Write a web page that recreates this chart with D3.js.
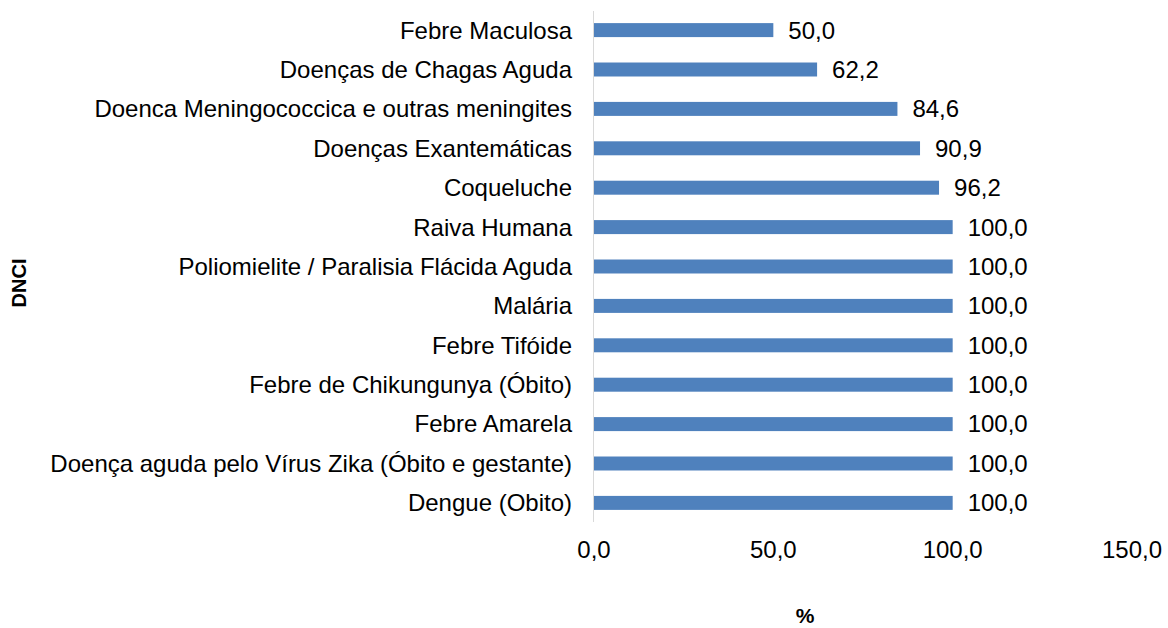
<!DOCTYPE html>
<html>
<head>
<meta charset="utf-8">
<script src="https://cdn.jsdelivr.net/npm/d3@7"></script>
<style>
  body { margin: 0; background: #fff; }
  text { font-family: "Liberation Sans", Arial, sans-serif; }
</style>
</head>
<body>
<div id="chart"></div>
<script>
// categories, top to bottom
var categories = [
  "Febre Maculosa",
  "Doenças de Chagas Aguda",
  "Doenca Meningococcica e outras meningites",
  "Doenças Exantemáticas",
  "Coqueluche",
  "Raiva Humana",
  "Poliomielite / Paralisia Flácida Aguda",
  "Malária",
  "Febre Tifóide",
  "Febre de Chikungunya (Óbito)",
  "Febre Amarela",
  "Doença aguda pelo Vírus Zika (Óbito e gestante)",
  "Dengue (Obito)"
];
var values = [50.0, 62.2, 84.6, 90.9, 96.2, 100, 100, 100, 100, 100, 100, 100, 100];
var xTicks = [0, 50, 100, 150];

var W = 1168, H = 628;
var FS = 24;
var fmt = function(v){ return d3.format(".1f")(v).replace(".", ","); };

var svg = d3.select("#chart").append("svg")
  .attr("width", W).attr("height", H);

var x = d3.scaleLinear().domain([0, 150]).range([594, 1132]);
var y = d3.scaleBand().domain(categories).range([10.5, 522.5])
  .paddingInner(0.645).paddingOuter(0.32);

// bars
svg.selectAll("rect.bar").data(values).enter().append("rect")
  .attr("class", "bar")
  .attr("x", x(0))
  .attr("y", function(d, i){ return y(categories[i]); })
  .attr("width", function(d){ return x(d) - x(0); })
  .attr("height", y.bandwidth())
  .attr("fill", "#4f81bd");

// vertical axis line
svg.append("line")
  .attr("x1", x(0) - 0.5).attr("x2", x(0) - 0.5)
  .attr("y1", 11).attr("y2", 522)
  .attr("stroke", "#d9d9d9").attr("stroke-width", 1);

// category labels
svg.selectAll("text.cat").data(categories).enter().append("text")
  .attr("class", "cat")
  .attr("x", 572)
  .attr("y", function(d){ return y(d) + y.bandwidth() / 2; })
  .attr("dy", "0.35em")
  .attr("text-anchor", "end")
  .attr("font-size", FS)
  .attr("fill", "#000")
  .text(function(d){ return d; });

// value labels
svg.selectAll("text.val").data(values).enter().append("text")
  .attr("class", "val")
  .attr("x", function(d){ return x(d) + 15; })
  .attr("y", function(d, i){ return y(categories[i]) + y.bandwidth() / 2; })
  .attr("dy", "0.35em")
  .attr("font-size", FS)
  .attr("fill", "#000")
  .text(fmt);

// x tick labels
svg.selectAll("text.tick").data(xTicks).enter().append("text")
  .attr("class", "tick")
  .attr("x", function(d){ return x(d); })
  .attr("y", 550)
  .attr("dy", "0.35em")
  .attr("text-anchor", "middle")
  .attr("font-size", FS)
  .text(fmt);

// axis titles
svg.append("text")
  .attr("x", 805).attr("y", 616)
  .attr("dy", "0.35em")
  .attr("text-anchor", "middle")
  .attr("font-size", 21).attr("font-weight", "bold")
  .text("%");

svg.append("text")
  .attr("transform", "translate(19,283) rotate(-90)")
  .attr("dy", "0.35em")
  .attr("text-anchor", "middle")
  .attr("font-size", 20).attr("font-weight", "bold")
  .text("DNCI");
</script>
</body>
</html>
